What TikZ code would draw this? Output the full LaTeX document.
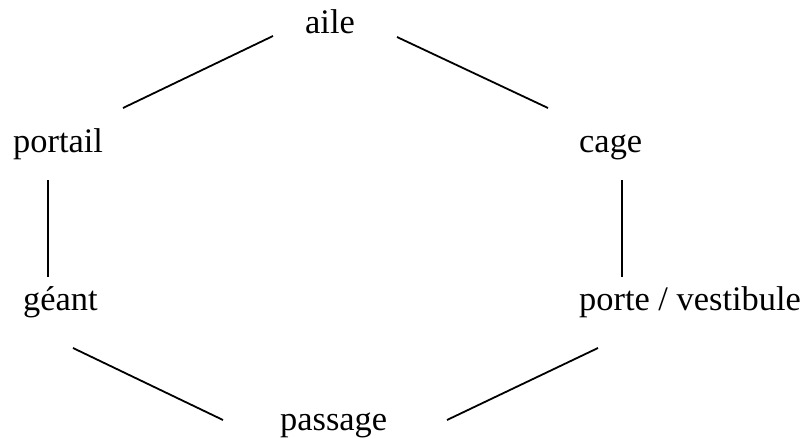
\documentclass[tikz,border=0pt]{standalone}
\usepackage{fontspec}
\setmainfont{Liberation Serif}
\begin{document}
\begin{tikzpicture}[x=1pt,y=-1pt,
  word/.style={anchor=base west,inner sep=0pt,font=\fontsize{34.4}{40}\selectfont},
  link/.style={line width=1.8pt}]
\useasboundingbox (0,0) rectangle (804,439);
\node[word] (aile) at (305,33) {aile};
\node[word] (portail) at (13,152) {portail};
\node[word] (cage) at (579,152) {cage};
\node[word] (geant) at (23,310) {géant};
\node[word] (porte) at (579,310) {porte / vestibule};
\node[word] (passage) at (280,430) {passage};
\coordinate (a1) at (273,36);
\coordinate (p1) at (123,108);
\coordinate (a2) at (397,37);
\coordinate (c1) at (548,108);
\coordinate (p2) at (48,180);
\coordinate (g1) at (48,277);
\coordinate (c2) at (622,180);
\coordinate (v1) at (622,277);
\coordinate (g2) at (73,348);
\coordinate (s1) at (223,420);
\coordinate (v2) at (598,348);
\coordinate (s2) at (447,420);
\draw[link] (a1) -- (p1);
\draw[link] (a2) -- (c1);
\draw[link] (p2) -- (g1);
\draw[link] (c2) -- (v1);
\draw[link] (g2) -- (s1);
\draw[link] (v2) -- (s2);
\end{tikzpicture}
\end{document}
